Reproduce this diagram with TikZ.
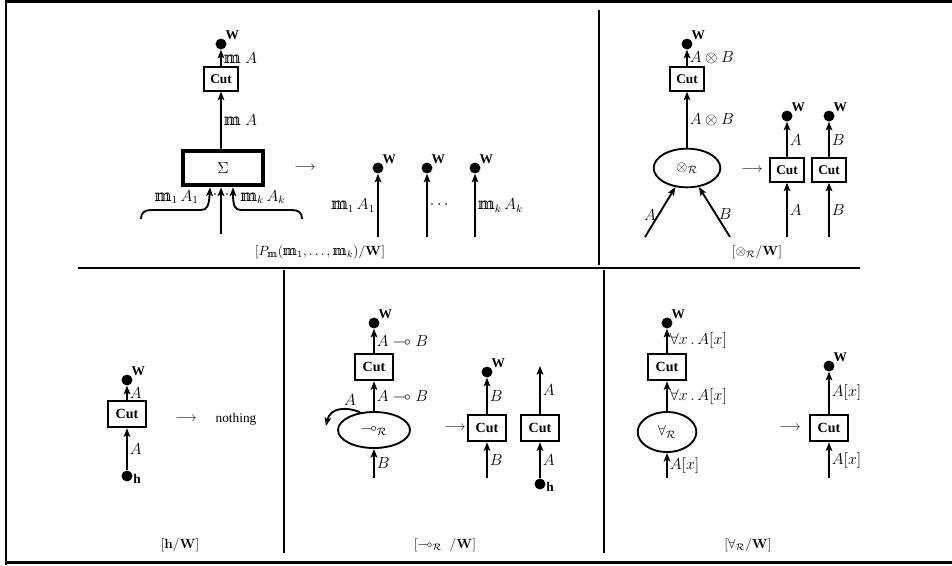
\documentclass[tikz,border=0pt]{standalone}
\usepackage{amsmath,amssymb}
\usepackage[no-math]{fontspec}
\setmainfont{Liberation Serif}
\newfontfamily\dvs{DejaVu Serif}
\newcommand{\mm}{\text{\normalfont\dvs\symbol{"1D55E}}}
\usetikzlibrary{arrows.meta,shapes.geometric,calc}
\begin{document}
\begin{tikzpicture}[x=0.75pt,y=-0.75pt,
  wire/.style={line width=1.4pt,-{Stealth[length=6.5pt,width=5pt,inset=1.5pt]}},
  dot/.style={circle,fill,inner sep=0pt,minimum size=8.2pt},
  wlab/.style={font=\normalsize\bfseries,inner sep=0.3pt},
  wdot/.style={dot,label={[wlab]45:W}},
  hdot/.style={dot,label={[wlab,yshift=-2.5pt]east:h}},
  cutbox/.style={draw,line width=1.4pt,minimum width=25pt,minimum height=17.5pt,inner sep=0pt,font=\normalsize\bfseries},
  cutbig/.style={draw,line width=1.4pt,minimum width=29pt,minimum height=20pt,inner sep=0pt,font=\fontsize{10.5}{12}\selectfont\bfseries},
  rulenode/.style={ellipse,draw,line width=1.4pt,inner sep=0pt,font=\fontsize{11}{13}\selectfont},
  lab/.style={font=\fontsize{12}{14}\selectfont,inner sep=1.5pt},
  title/.style={inner sep=0pt}]
\useasboundingbox (0,0) rectangle (952,565);
% frame
\draw[line width=2.4pt] (5,1.5) -- (952,1.5);
\draw[line width=0.9pt] (6,0) -- (6,565);
\draw[line width=2.4pt] (5,562.5) -- (952,562.5);
\draw[line width=0.9pt] (599,10) -- (599,265);
\draw[line width=1.4pt] (78,268) -- (860,268);
\draw[line width=0.9pt] (284,270) -- (284,553);
\draw[line width=0.9pt] (604,270) -- (604,553);

% ---------- top left ----------
\node[wdot] (tlW) at (221,44) {};
\node[cutbox] (tlC) at (221,79) {Cut};
\node[draw,line width=3.6pt,minimum width=60pt,minimum height=25.5pt,inner sep=0pt,font=\large] (tlS) at (223,168) {$\Sigma$};
\draw[wire] (tlC) -- (tlW) node[lab,midway,right] {$\mm\;A$};
\draw[wire] (tlS.north -| tlC) -- (tlC) node[lab,midway,right] {$\mm\;A$};
\coordinate (tlin) at (221,234);
\draw[wire] (tlin) -- (tlin |- tlS.south);
\draw[wire] (141,219) .. controls (141,213) and (144,210) .. (151,210) -- (201,210) .. controls (207,210) and (209,206) .. ($(tlS.south)+(-13,0)$);
\draw[wire] (302,219) .. controls (302,213) and (299,210) .. (292,210) -- (241,210) .. controls (235,210) and (233,206) .. ($(tlS.south)+(10,0)$);
\fill (215,194) circle[radius=0.7pt];
\fill (227,194) circle[radius=0.7pt];
\node[lab,anchor=east] (tlL1) at (201,197) {$\mm_1\,A_1$};
\node[lab,anchor=west] (tlLk) at (238,197) {$\mm_k\,A_k$};
\node (tlArr) at (305,168) {$\longrightarrow$};
\node[wdot] (tlW1) at (378,168) {};
\node[wdot] (tlW2) at (427,168) {};
\node[wdot] (tlW3) at (475,168) {};
\coordinate (tlb1) at (378,237);
\coordinate (tlb2) at (427,237);
\coordinate (tlb3) at (475,237);
\draw[wire] (tlb1) -- (tlW1) node[lab,midway,left] {$\mm_1\,A_1$};
\draw[wire] (tlb2) -- (tlW2) node[lab,midway,right] {$\cdots$};
\draw[wire] (tlb3) -- (tlW3) node[lab,midway,right] {$\mm_k\,A_k$};
\node[title] (tlT) at (320,252) {$[P_{\mm}(\mm_1,\ldots,\mm_k)/\mathbf{W}]$};

% ---------- top right ----------
\node[wdot] (trW) at (687,44) {};
\node[cutbox] (trC) at (687,79) {Cut};
\node[rulenode,minimum width=50pt,minimum height=29pt] (trR) at (687,168) {$\otimes_{\mathcal{R}}$};
\draw[wire] (trC) -- (trW) node[lab,midway,right] {$A\otimes B$};
\draw[wire] (trR) -- (trC) node[lab,midway,right] {$A\otimes B$};
\coordinate (trinA) at (645,237);
\coordinate (trinB) at (730,237);
\draw[wire] (trinA) -- (trR) node[lab,pos=0.45,left] {$A$};
\draw[wire] (trinB) -- (trR) node[lab,pos=0.45,right] {$B$};
\node (trArr) at (752,170) {$\longrightarrow$};
\node[cutbox] (trC1) at (787,170) {Cut};
\node[cutbox] (trC2) at (829,170) {Cut};
\node[wdot] (trW1) at (787,116) {};
\node[wdot] (trW2) at (829,116) {};
\draw[wire] (trC1) -- (trW1) node[lab,midway,right] {$A$};
\draw[wire] (trC2) -- (trW2) node[lab,midway,right] {$B$};
\coordinate (trb1) at (787,237);
\coordinate (trb2) at (829,237);
\draw[wire] (trb1) -- (trC1) node[lab,midway,right] {$A$};
\draw[wire] (trb2) -- (trC2) node[lab,midway,right] {$B$};
\node[title] (trT) at (757,252) {$[\otimes_{\mathcal{R}}/\mathbf{W}]$};

% ---------- bottom left ----------
\node[wdot] (blW) at (127,380) {};
\node[cutbig] (blC) at (127,414) {Cut};
\node[hdot] (blh) at (127,476) {};
\draw[wire] (blC) -- (blW) node[lab,midway,right] {$A$};
\draw[wire] (blh) -- (blC) node[lab,midway,right] {$A$};
\node (blArr) at (186,419) {$\longrightarrow$};
\node (blN) at (236,419) {nothing};
\node[title] (blT) at (180,545) {$[\mathbf{h}/\mathbf{W}]$};

% ---------- bottom middle ----------
\node[wdot] (bmW) at (374,323) {};
\node[cutbig] (bmC) at (374,367) {Cut};
\node[rulenode,minimum width=54pt,minimum height=27pt] (bmR) at (374,430) {$\multimap_{\mathcal{R}}$};
\draw[wire] (bmC) -- (bmW) node[lab,midway,right] {$A\multimap B$};
\draw[wire] (bmR) -- (bmC) node[lab,midway,right] {$A\multimap B$};
\coordinate (bmin) at (374,478);
\draw[wire] (bmin) -- (bmR) node[lab,midway,right] {$B$};
\coordinate (bmcurl) at (326,426);
\draw[wire] (bmR.128) .. controls (346,406) and (330,408) .. (bmcurl);
\node[lab] (bmA) at (350,400) {$A$};
\node (bmArr) at (455,428) {$\longrightarrow$};
\node[cutbig] (bmC1) at (487,428) {Cut};
\node[wdot] (bmW1) at (487,372) {};
\coordinate (bmb1) at (487,478);
\draw[wire] (bmC1) -- (bmW1) node[lab,midway,right] {$B$};
\draw[wire] (bmb1) -- (bmC1) node[lab,midway,right] {$B$};
\node[cutbig] (bmC2) at (540,428) {Cut};
\coordinate (bmt2) at (540,366);
\node[hdot] (bmh) at (540,484) {};
\draw[wire] (bmC2) -- (bmt2) node[lab,midway,right] {$A$};
\draw[wire] (bmh) -- (bmC2) node[lab,midway,right] {$A$};
\node[title] (bmT) at (445,545) {$[\multimap_{\mathcal{R}}\;/\mathbf{W}]$};

% ---------- bottom right ----------
\node[wdot] (brW) at (667,323) {};
\node[cutbig] (brC) at (667,367) {Cut};
\node[rulenode,minimum width=44pt,minimum height=30pt] (brR) at (667,432) {$\forall_{\mathcal{R}}$};
\draw[wire] (brC) -- (brW) node[lab,midway,right] {$\forall x\,.\,A[x]$};
\draw[wire] (brR) -- (brC) node[lab,midway,right] {$\forall x\,.\,A[x]$};
\coordinate (brin) at (667,478);
\draw[wire] (brin) -- (brR) node[lab,midway,right] {$A[x]$};
\node (brArr) at (790,428) {$\longrightarrow$};
\node[cutbig] (brC1) at (829,428) {Cut};
\node[wdot] (brW1) at (829,366) {};
\coordinate (brb1) at (829,478);
\draw[wire] (brC1) -- (brW1) node[lab,midway,right] {$A[x]$};
\draw[wire] (brb1) -- (brC1) node[lab,midway,right] {$A[x]$};
\node[title] (brT) at (748,545) {$[\forall_{\mathcal{R}}/\mathbf{W}]$};
\end{tikzpicture}
\end{document}
